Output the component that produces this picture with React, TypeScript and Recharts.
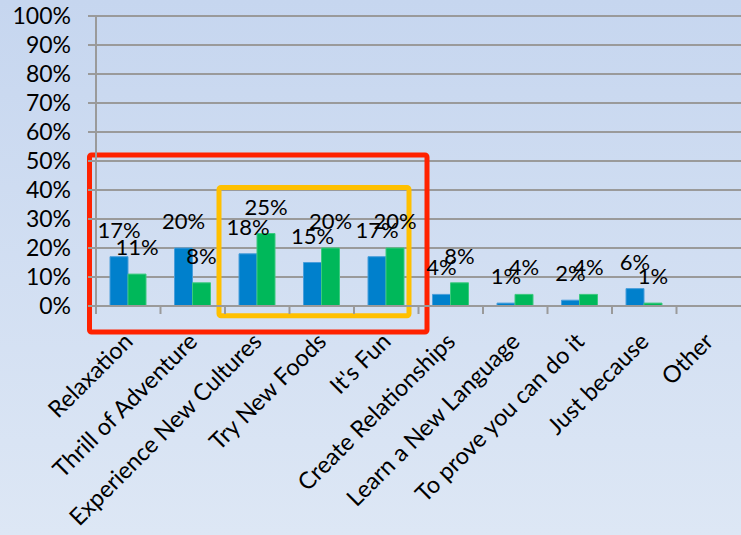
import React from "react";
import {
  BarChart,
  Bar,
  XAxis,
  YAxis,
  CartesianGrid,
  LabelList,
  ReferenceArea,
} from "recharts";

const categories = [
  "Relaxation",
  "Thrill of Adventure",
  "Experience New Cultures",
  "Try New Foods",
  "It's Fun",
  "Create Relationships",
  "Learn a New Language",
  "To prove you can do it",
  "Just because",
  "Other",
];
const seriesA = [17, 20, 18, 15, 17, 4, 1, 2, 6, null];
const seriesB = [11, 8, 25, 20, 20, 8, 4, 4, 1, null];
const yTicks = [0, 10, 20, 30, 40, 50, 60, 70, 80, 90, 100];

const BLUE = "#0080cc";
const GREEN = "#00b85a";
const GRID = "#9a9a9a";
const FONT = "Lato, 'Noto Sans', sans-serif";

const data = categories.map((name, i) => ({
  name,
  a: seriesA[i],
  b: seriesB[i],
}));

const pct = (v: any) => (v == null ? "" : `${v}%`);

function CategoryTick(props: any) {
  const { x, y, payload } = props;
  const off = payload?.offset ?? 32;
  const tx = x + 6;
  const ty = y + 37;
  return (
    <g>
      <line x1={x - off} y1={y} x2={x - off} y2={y + 8} stroke={GRID} strokeWidth={2} />
      <text
        x={tx}
        y={ty}
        textAnchor="end"
        transform={`rotate(-45, ${tx}, ${ty})`}
        fontSize={23.5}
        fontFamily={FONT}
        fill="#000"
      >
        {payload.value}
      </text>
    </g>
  );
}

function BoxShape(color: string, padL: number, padR: number) {
  return (props: any) => {
    const { x, y, width, height } = props;
    return (
      <rect
        x={x - padL}
        y={y}
        width={width + padL + padR}
        height={height}
        fill="none"
        stroke={color}
        strokeWidth={5}
        rx={2}
      />
    );
  };
}

export default function App() {
  return (
    <div
      style={{
        position: "absolute",
        left: 0,
        top: 0,
        width: 741,
        height: 535,
        background: "linear-gradient(180deg, #c6d6ef 0%, #dde7f5 100%)",
        overflow: "hidden",
      }}
    >
      <BarChart
        width={741}
        height={535}
        data={data}
        margin={{ top: 16, right: 0, left: 0, bottom: 0 }}
        barGap={0}
        barSize={18}
      >
        <CartesianGrid vertical={false} stroke={GRID} strokeWidth={2} />
        <XAxis
          dataKey="name"
          height={229}
          interval={0}
          tickSize={0}
          tickMargin={0}
          tick={<CategoryTick />}
          axisLine={{ stroke: GRID, strokeWidth: 2 }}
        />
        <YAxis
          width={96}
          domain={[0, 100]}
          ticks={yTicks}
          tickFormatter={pct}
          tickSize={8}
          tickMargin={17}
          axisLine={{ stroke: GRID, strokeWidth: 2 }}
          tickLine={{ stroke: GRID, strokeWidth: 2 }}
          tick={{ fontSize: 23, fontFamily: FONT, fill: "#000" }}
          interval={0}
        />
        <Bar dataKey="a" fill={BLUE} stroke="#4a9edb" strokeWidth={1} isAnimationActive={false}>
          <LabelList
            dataKey="a"
            position="top"
            offset={19}
            formatter={pct}
            style={{ fontSize: 22, fontFamily: FONT, fill: "#000" }}
          />
        </Bar>
        <Bar dataKey="b" fill={GREEN} stroke="#3cc97f" strokeWidth={1} isAnimationActive={false}>
          <LabelList
            dataKey="b"
            position="top"
            offset={19}
            formatter={pct}
            style={{ fontSize: 22, fontFamily: FONT, fill: "#000" }}
          />
        </Bar>
        <ReferenceArea
          x1="Relaxation"
          x2="It's Fun"
          y1={-9}
          y2={52.1}
          ifOverflow="visible"
          shape={BoxShape("#ff2200", 6.5, 8.5)}
        />
        <ReferenceArea
          x1="Experience New Cultures"
          x2="It's Fun"
          y1={-3.4}
          y2={40.9}
          ifOverflow="visible"
          shape={BoxShape("#ffc000", 6, -9.5)}
        />
      </BarChart>
    </div>
  );
}
